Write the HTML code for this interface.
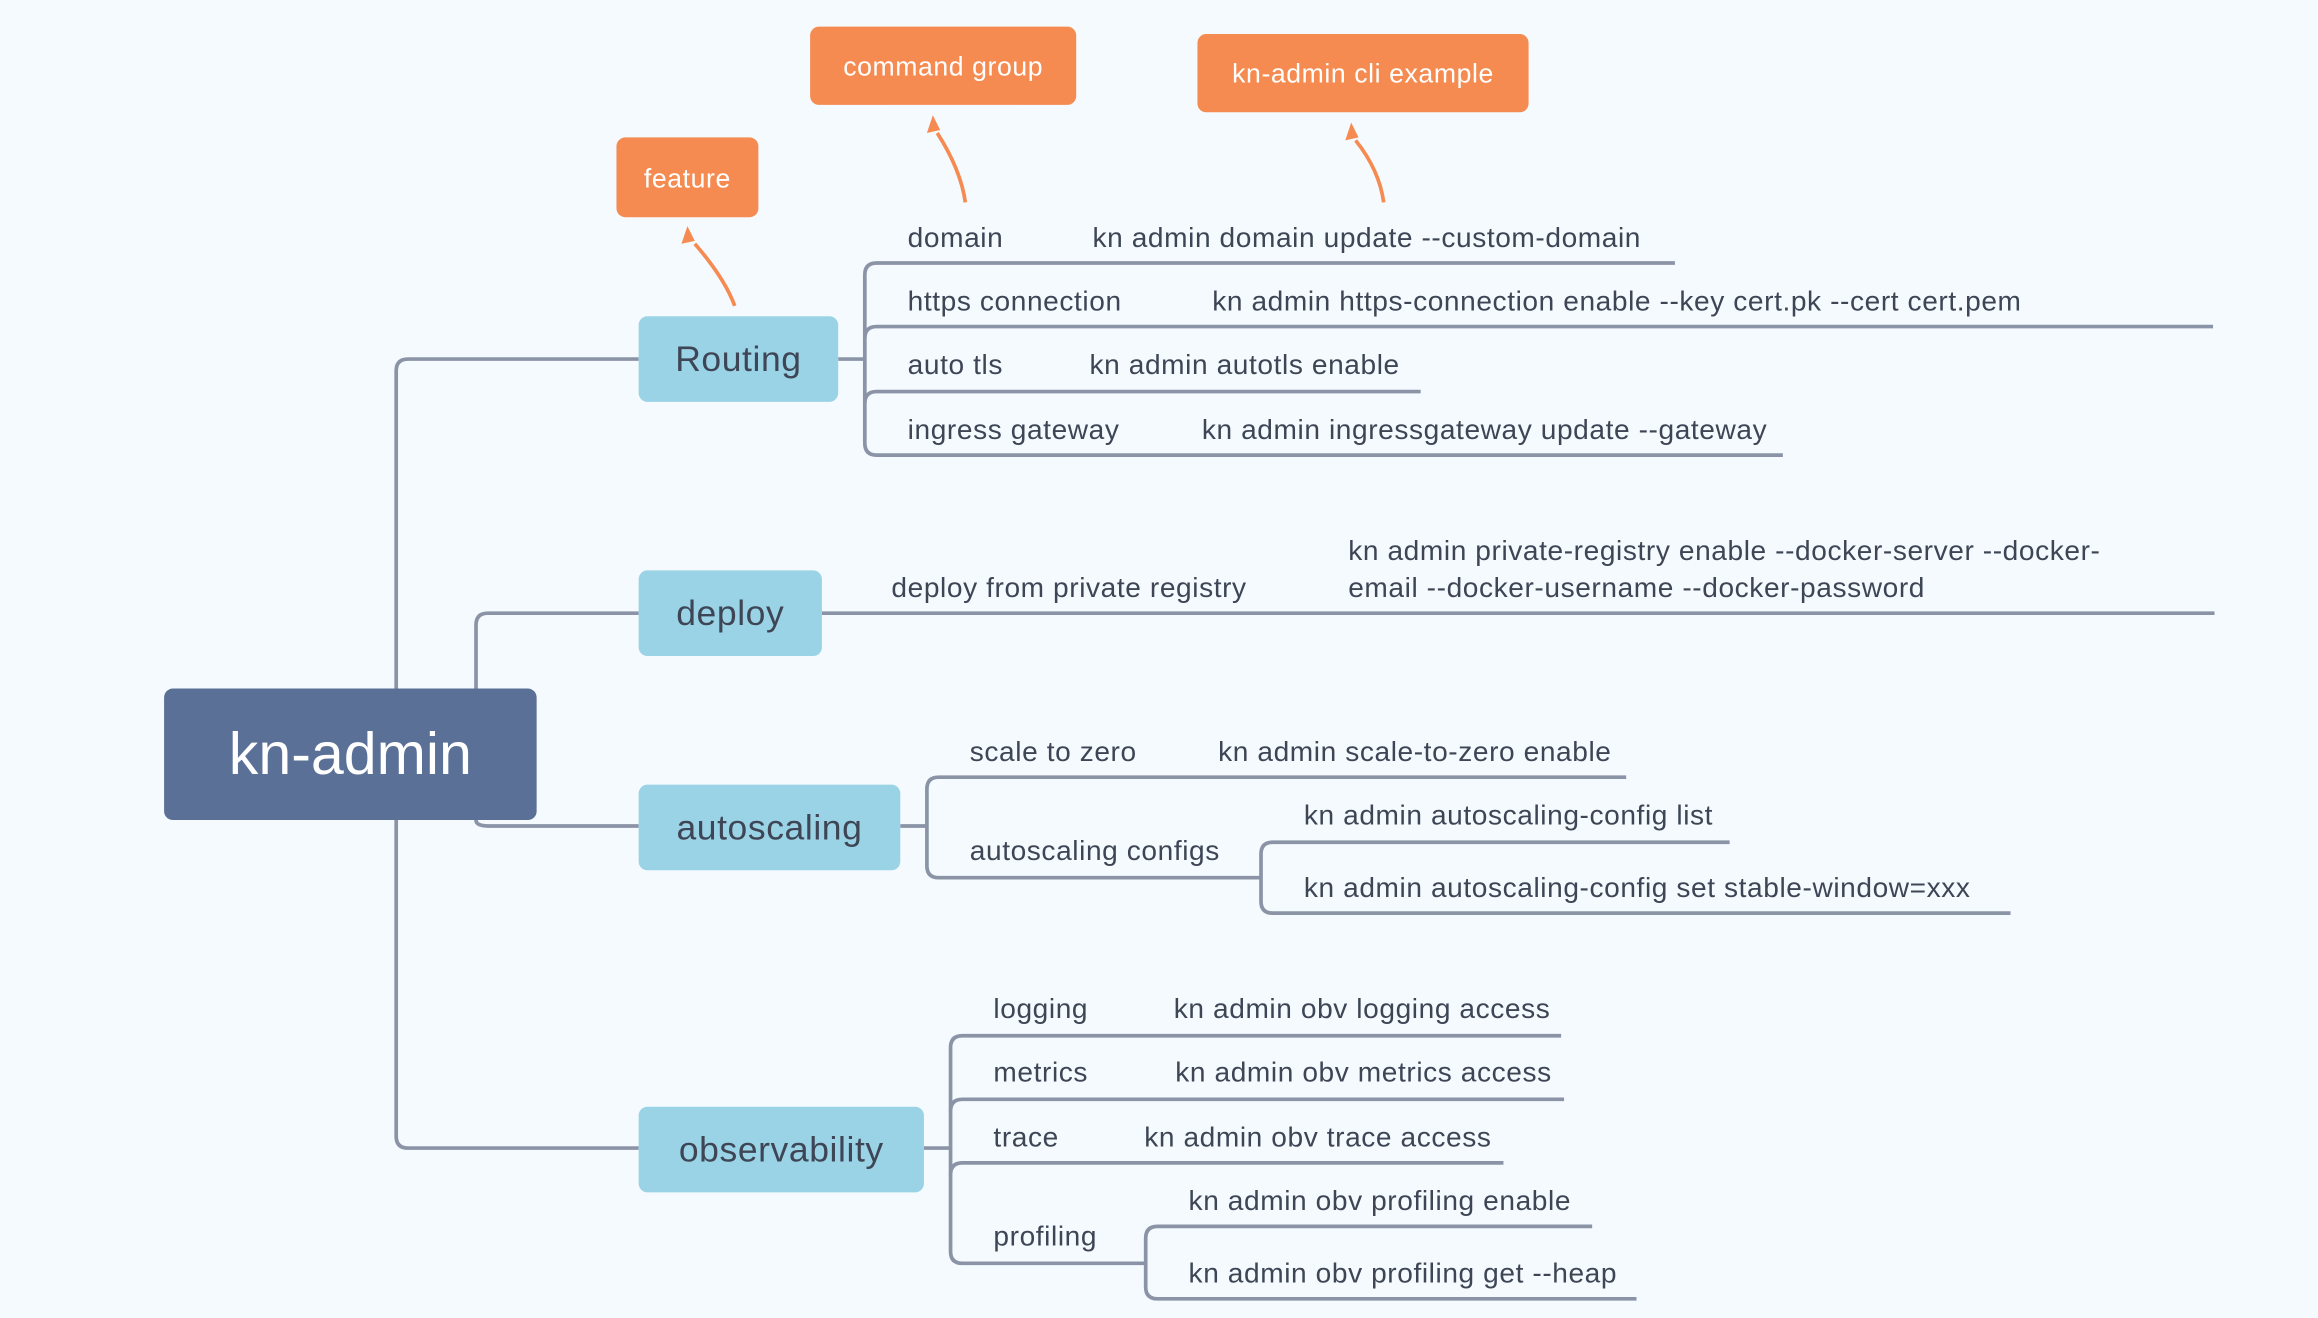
<!DOCTYPE html>
<html><head><meta charset="utf-8"><style>
html,body{margin:0;padding:0;background:#f5fafe;}
svg{display:block}
text{font-family:"Liberation Sans",sans-serif;fill:#3e4656;font-size:19px;letter-spacing:0.4px}
</style></head><body>
<svg width="2318" height="1318" viewBox="0 0 1568 892" preserveAspectRatio="none" xmlns="http://www.w3.org/2000/svg">
<rect width="1568" height="892" fill="#f5fafe"/>
<g fill="none" stroke="#8a94a6" stroke-width="2.5">
<path d="M268 466 V251 Q268 243 276 243 H432"/>
<path d="M268 555 V769 Q268 777 276 777 H432"/>
<path d="M322 466 V423 Q322 415 330 415 H432"/>
<path d="M322 555 Q322 559 330 559 H432"/>
<path d="M567 243 H585"/>
<path d="M1133 178 H593 Q585 178 585 186 V300 Q585 308 593 308 H1206"/>
<path d="M585 229 Q585 221 593 221 H1497"/>
<path d="M585 273 Q585 265 593 265 H961"/>
<path d="M556 415 H1498"/>
<path d="M609 559 H627"/>
<path d="M1100 526 H635 Q627 526 627 534 V586 Q627 594 635 594 H853"/>
<path d="M1170 570 H861 Q853 570 853 578 V610 Q853 618 861 618 H1360"/>
<path d="M625 777 H643"/>
<path d="M1056 701 H651 Q643 701 643 709 V847 Q643 855 651 855 H775"/>
<path d="M643 752 Q643 744 651 744 H1058"/>
<path d="M643 795 Q643 787 651 787 H1017"/>
<path d="M1077 830 H783 Q775 830 775 838 V871 Q775 879 783 879 H1107"/>
</g>
<g fill="none" stroke="#f58b50" stroke-width="2.5">
<path d="M497 207 Q490 188 470 165"/>
<path d="M653 137 Q650 115 634 90"/>
<path d="M936 137 Q933 115 917 95"/>
</g>
<g fill="#f58b50">
<path d="M465 153 L461 165 L470 163 Z"/>
<path d="M631 78 L627 90 L636 88 Z"/>
<path d="M914 83 L910 95 L919 93 Z"/>
</g>
<rect x="111" y="466" width="252" height="89" rx="6" fill="#5a7096"/>
<text x="237" y="524" text-anchor="middle" style="fill:#fff;font-size:40px;letter-spacing:0">kn-admin</text>
<rect x="432" y="214" width="135" height="58" rx="6" fill="#9bd3e6"/>
<text x="499.5" y="251" text-anchor="middle" style="font-size:24px">Routing</text>
<rect x="432" y="386" width="124" height="58" rx="6" fill="#9bd3e6"/>
<text x="494" y="423" text-anchor="middle" style="font-size:24px">deploy</text>
<rect x="432" y="531" width="177" height="58" rx="6" fill="#9bd3e6"/>
<text x="520.5" y="568" text-anchor="middle" style="font-size:24px">autoscaling</text>
<rect x="432" y="749" width="193" height="58" rx="6" fill="#9bd3e6"/>
<text x="528.5" y="786" text-anchor="middle" style="font-size:24px">observability</text>
<rect x="417" y="93" width="96" height="54" rx="6" fill="#f58b50"/>
<text x="465" y="127" text-anchor="middle" style="fill:#fff;font-size:18px">feature</text>
<rect x="548" y="18" width="180" height="53" rx="6" fill="#f58b50"/>
<text x="638" y="51" text-anchor="middle" style="fill:#fff;font-size:18px">command group</text>
<rect x="810" y="23" width="224" height="53" rx="6" fill="#f58b50"/>
<text x="922" y="56" text-anchor="middle" style="fill:#fff;font-size:18px">kn-admin cli example</text>
<text x="614" y="167">domain</text><text x="739" y="167">kn admin domain update --custom-domain</text>
<text x="614" y="210">https connection</text><text x="820" y="210">kn admin https-connection enable --key cert.pk --cert cert.pem</text>
<text x="614" y="253">auto tls</text><text x="737" y="253">kn admin autotls enable</text>
<text x="614" y="297">ingress gateway</text><text x="813" y="297">kn admin ingressgateway update --gateway</text>
<text x="603" y="404">deploy from private registry</text>
<text x="912" y="379">kn admin private-registry enable --docker-server  --docker-</text>
<text x="912" y="404">email --docker-username --docker-password</text>
<text x="656" y="515">scale to zero</text><text x="824" y="515">kn admin scale-to-zero enable</text>
<text x="656" y="582">autoscaling configs</text>
<text x="882" y="558">kn admin autoscaling-config list</text>
<text x="882" y="607">kn admin autoscaling-config set stable-window=xxx</text>
<text x="672" y="689">logging</text><text x="794" y="689">kn admin obv logging access</text>
<text x="672" y="732">metrics</text><text x="795" y="732">kn admin obv metrics access</text>
<text x="672" y="776">trace</text><text x="774" y="776">kn admin obv trace access</text>
<text x="672" y="843">profiling</text>
<text x="804" y="819">kn admin obv profiling enable</text>
<text x="804" y="868">kn admin obv profiling get --heap</text>
</svg>
</body></html>
